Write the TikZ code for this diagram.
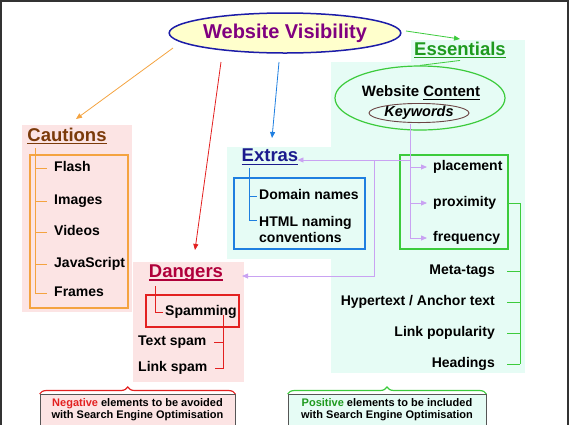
\documentclass[tikz,border=0pt]{standalone}
\usepackage{fontspec}
\setmainfont{Liberation Sans}
\usepackage{xcolor}
\usetikzlibrary{arrows.meta,positioning,shapes.geometric,decorations.pathreplacing}
\newcommand{\vul}[1]{\setbox0\hbox{#1}\leavevmode
  \rlap{\vrule width\wd0 height -1.9pt depth 3.1pt}\box0}
\definecolor{vpurple}{HTML}{800080}
\definecolor{vblue}{HTML}{1C1CA8}
\definecolor{vyellow}{HTML}{FFFFCC}
\definecolor{vmint}{HTML}{E6FCF5}
\definecolor{vrose}{HTML}{FCE4E4}
\definecolor{vgreen}{HTML}{1E9A1E}
\definecolor{vlgreen}{HTML}{3CCB3C}
\definecolor{vbrown}{HTML}{7B3A0A}
\definecolor{vorange}{HTML}{F4A340}
\definecolor{vnavy}{HTML}{1B1B8E}
\definecolor{vsky}{HTML}{1F7FE0}
\definecolor{vcrimson}{HTML}{B0003A}
\definecolor{vred}{HTML}{E32020}
\definecolor{vlav}{HTML}{C9A2F2}
\definecolor{vring}{HTML}{6B4545}
\definecolor{vgray}{HTML}{555555}
\tikzset{
  >={Triangle[length=6pt,width=5pt]},
  vtitle/.style={ellipse, draw=vblue, fill=vyellow, line width=1.5pt,
                 minimum width=226pt, minimum height=40pt, inner sep=0pt,
                 font=\fontsize{20}{24}\selectfont\bfseries, text=vpurple},
  vhead/.style={font=\fontsize{18.5}{22}\selectfont\bfseries, inner sep=2pt},
  vsub/.style={font=\fontsize{15}{18}\selectfont\bfseries, inner sep=0pt},
  vitem/.style={font=\fontsize{14}{16}\selectfont\bfseries, inner sep=3pt},
  vrow/.style={vitem, text height=10pt, text depth=3pt},
  vnote/.style={font=\fontsize{11}{12.5}\selectfont\bfseries, align=center,
                draw=vgray, line width=0.8pt, inner xsep=0pt, inner ysep=4pt},
  vbox/.style={line width=1.2pt},
  vtree/.style={line width=0.8pt},
  vlink/.style={->, line width=0.8pt},
  vbrace/.style={decorate, decoration={brace, amplitude=7pt, aspect=#1},
                 line width=1.2pt},
  vbrace/.default=0.5,
}
\begin{document}
\begin{tikzpicture}[x=1pt,y=-1pt]
  \clip (0,0) rectangle (573,424);

  % shaded areas
  \fill[vmint] (411,40) rectangle (525,62);
  \fill[vmint] (331,62) rectangle (525,373);
  \fill[vmint] (227,147) rectangle (331,259);
  \fill[vrose] (22,125) rectangle (132,312);
  \fill[vrose] (133,262) rectangle (244,382);
  \draw[black!80, line width=1.6pt] (1,1) rectangle (568,440);

  % title
  \node[vtitle] (vis) at (285,33) {Website Visibility};
  \coordinate (ofoot) at (173,48);
  \coordinate (otip)  at (76,119);
  \coordinate (rfoot) at (221,62);
  \coordinate (rtip)  at (195,250);
  \coordinate (bfoot) at (279,62);
  \coordinate (btip)  at (272,138);
  \coordinate (gfoot) at (406,31);
  \coordinate (gtip)  at (460,39);
  \draw[vlink, vorange] (ofoot) -- (otip);
  \draw[vlink, vred] (rfoot) -- (rtip);
  \draw[vlink, vsky] (bfoot) -- (btip);
  \draw[vlink, vlgreen] (gfoot) -- (gtip);

  % essentials
  \node[vhead, text=vgreen] (ess) at (460,50) {\vul{Essentials}};
  \node[ellipse, draw=vlgreen, line width=1.2pt, minimum width=170pt,
        minimum height=64pt] (wc) at (420,98) {};
  \draw[vlgreen, vtree] (ess.south) -- (wc.north);
  \node[vsub] (wctext) at (421,93) {Website \vul{Content}};
  \node[vsub, ellipse, draw=vring, line width=0.9pt,
        font=\fontsize{14.5}{17}\selectfont\bfseries\itshape,
        minimum width=100pt, minimum height=19pt] (kw) at (419,113) {Keywords};

  \draw[vlgreen, vbox] (400,155) rectangle (508,249);
  \coordinate (kwfoot) at (410,124);
  \foreach \n/\t/\y in {placement/placement/167, proximity/proximity/203,
                        frequency/frequency/238} {
    \node[vrow, anchor=west] (\n) at (430,\y) {\t};
    \draw[vlink, vlav] (kwfoot) |- ([xshift=-3pt]\n.west);
  }
  \draw[vlgreen, vtree] (508,203) -| (520,364);
  \foreach \n/\t/\y in {meta/Meta-tags/271, hyper/{Hypertext / Anchor text}/302,
                        linkpop/Link popularity/333, heads/Headings/364} {
    \node[vrow, anchor=east] (\n) at (498,\y) {\t};
    \draw[vlgreen, vtree] ([xshift=9pt]\n.east) -- (520,\y);
  }

  % extras
  \node[vhead, text=vnavy] (extras) at (270,157) {\vul{Extras}};
  \draw[vsky, vbox] (234,178) rectangle (365,249);
  \coordinate (xroot) at (249,168);
  \node[vrow, anchor=west] (domain) at (256,196) {Domain names};
  \node[vitem, anchor=west, align=left] (html) at (256,229.5)
    {HTML naming\\conventions};
  \draw[vsky, vtree] (xroot) |- ([xshift=1pt]domain.west);
  \draw[vsky, vtree] (xroot) |- ([xshift=1pt, yshift=9pt]html.west);

  \coordinate (xjoin) at (410,160);
  \coordinate (djoin) at (374,160);
  \coordinate (dtip)  at (242,276);
  \draw[vlink, vlav, shorten >=-3pt] (xjoin) -- (xjoin -| extras.east);
  \draw[vlink, vlav] (djoin) |- (dtip);

  % cautions
  \node[vhead, text=vbrown] (caut) at (67,136) {\vul{Cautions}};
  \draw[vorange, vbox] (30,155) rectangle (128,308);
  \coordinate (croot) at (35,148);
  \foreach \n/\t/\y in {flash/Flash/168, images/Images/201, videos/Videos/232,
                        jscript/JavaScript/264, frames/Frames/293} {
    \node[vrow, anchor=west] (\n) at (51,\y) {\t};
    \draw[vorange, vtree] (croot) |- ([xshift=-4pt]\n.west);
  }

  % dangers
  \node[vhead, text=vcrimson] (dang) at (186,273) {\vul{Dangers}};
  \draw[vred, vbox] (146,295) rectangle (239,327);
  \coordinate (droot) at (155,286);
  \node[vrow, anchor=west] (spam) at (162,312) {Spamming};
  \draw[vred, vtree] (droot) |- ([xshift=1pt]spam.west);
  \coordinate (sfoot) at (223,315);
  \node[vrow, anchor=west] (textspam) at (135,342) {Text spam};
  \node[vrow, anchor=west] (linkspam) at (135,368) {Link spam};
  \draw[vred, vtree] (sfoot) |- ([xshift=4pt]textspam.east);
  \draw[vred, vtree] (sfoot) |- ([xshift=4pt]linkspam.east);

  % notes
  \node[vnote, fill=vrose, minimum width=195pt, anchor=north] (neg) at (137.5,394)
    {\textcolor{vred}{Negative} elements to be avoided\\with Search Engine Optimisation};
  \draw[vred, vbrace=0.45] (neg.north west) -- (neg.north east);
  \node[vnote, fill=vmint, minimum width=198pt, anchor=north] (pos) at (387,394)
    {\textcolor{vgreen}{Positive} elements to be included\\with Search Engine Optimisation};
  \draw[vlgreen, vbrace] (pos.north west) -- (pos.north east);

\end{tikzpicture}
\end{document}
